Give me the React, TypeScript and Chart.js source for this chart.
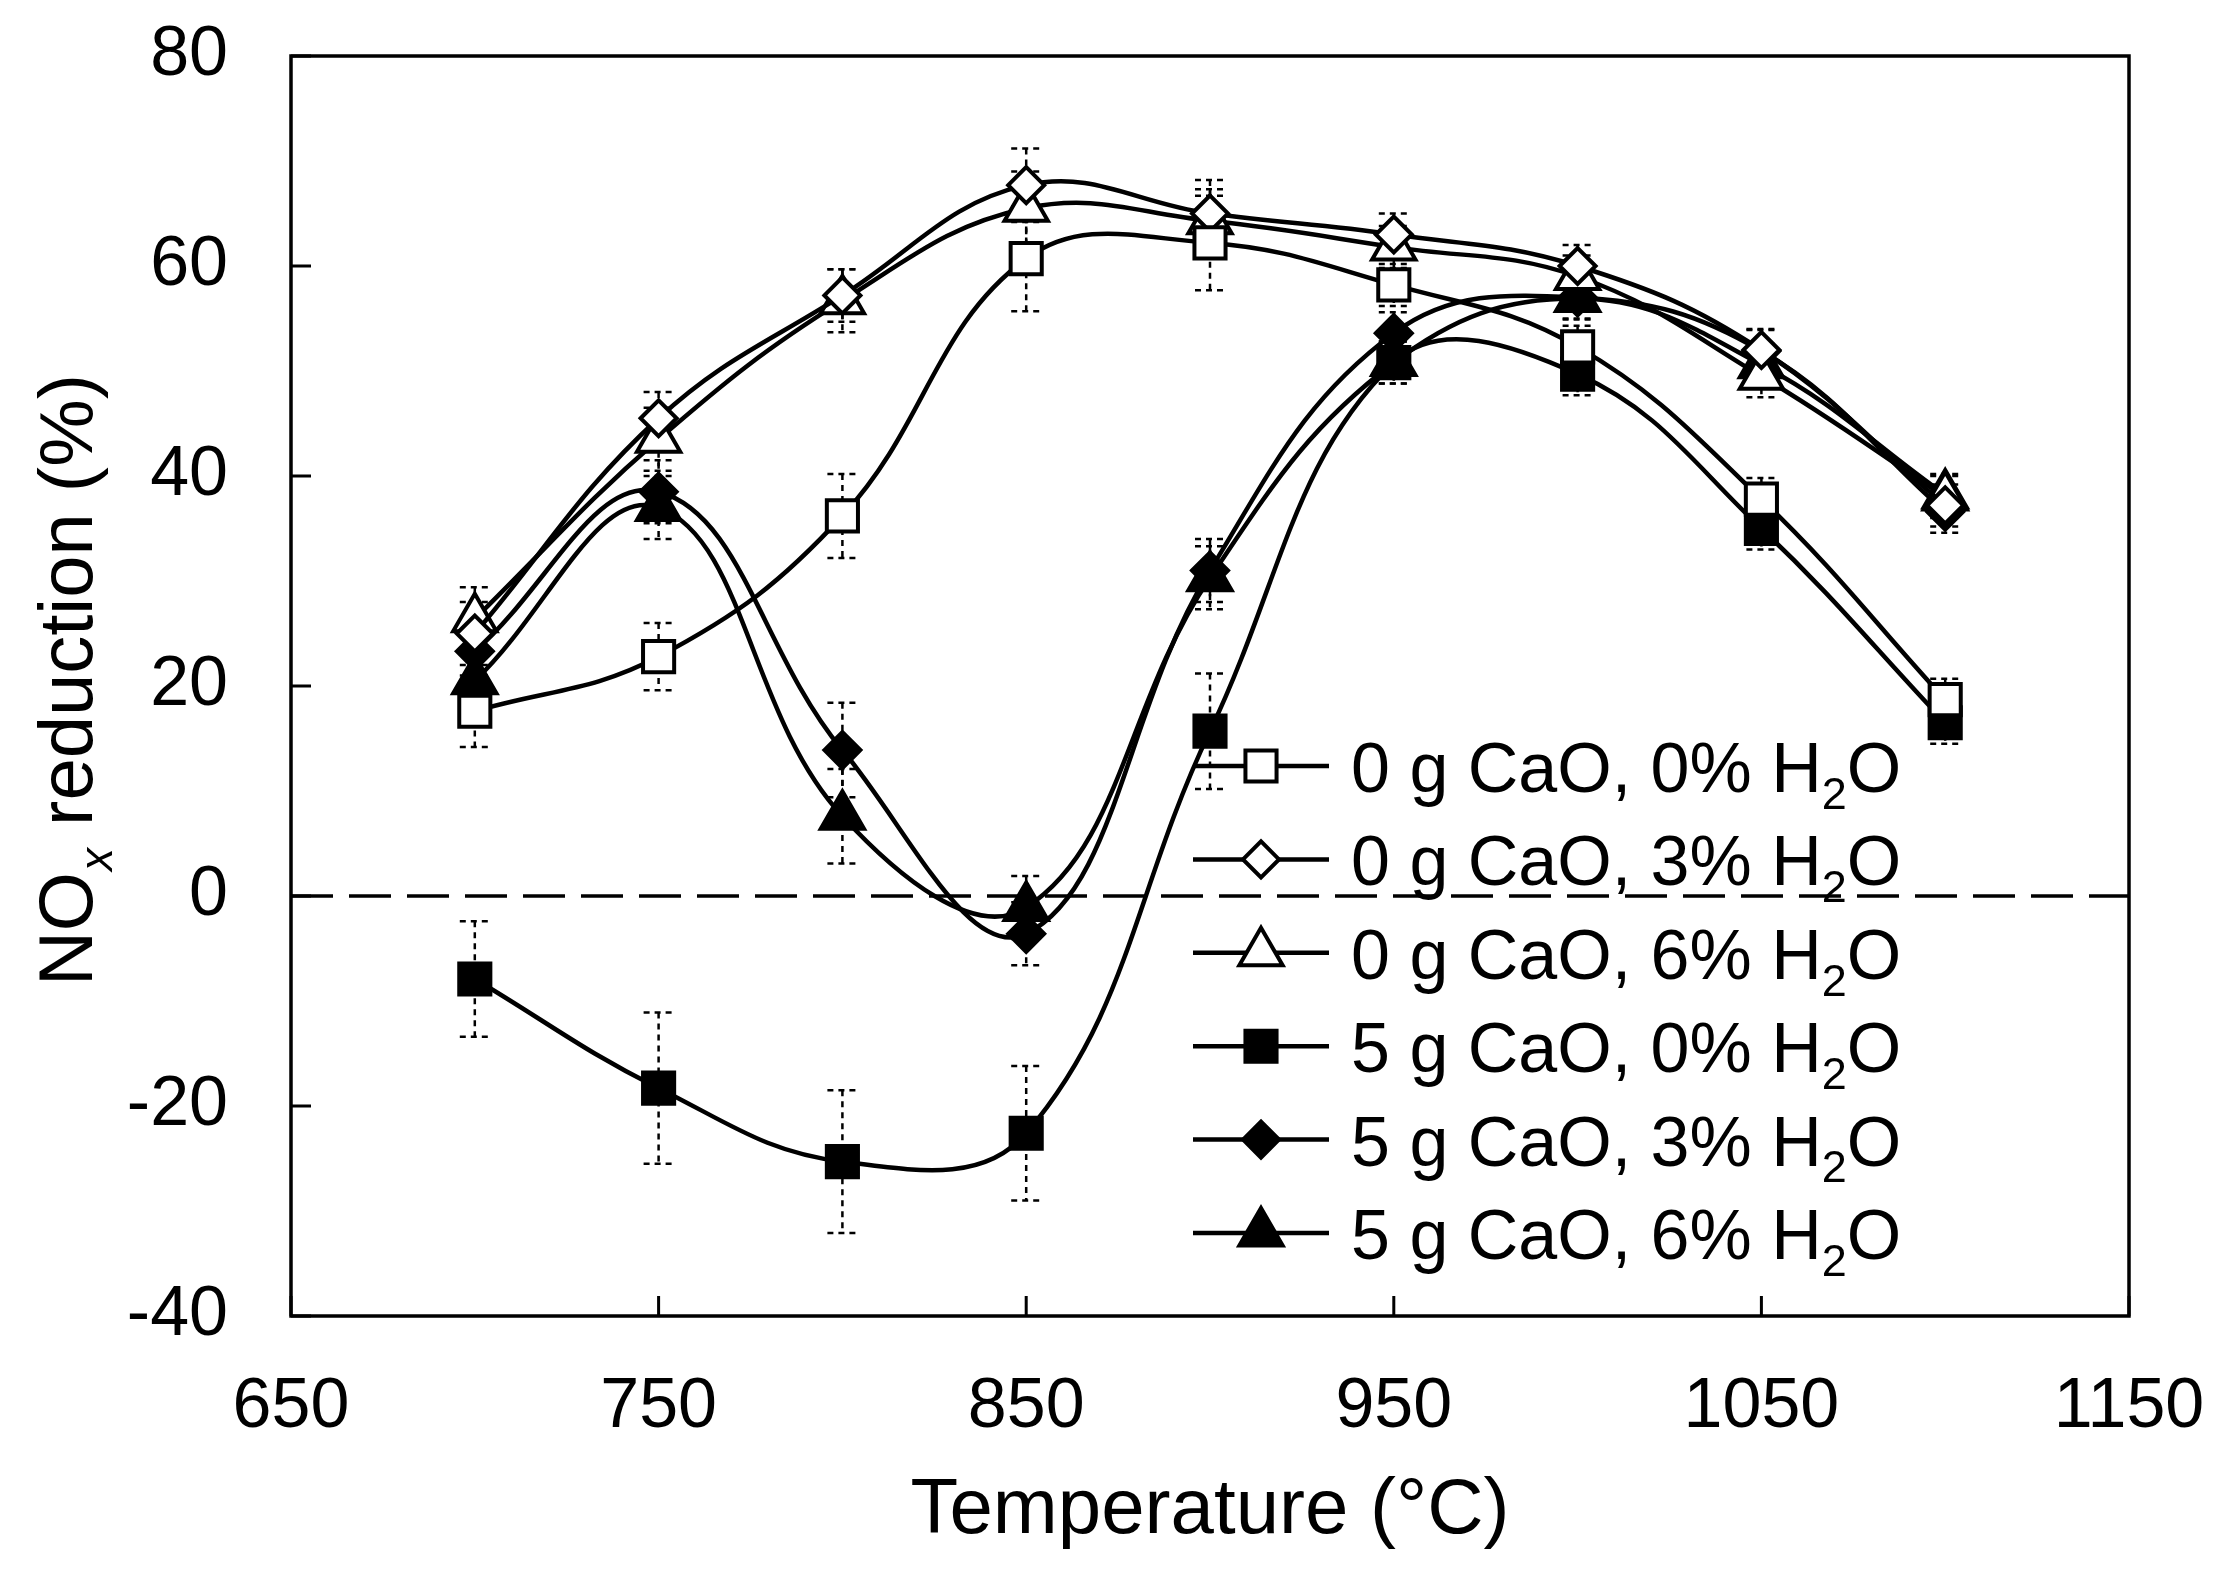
import React, { useEffect, useRef } from 'react';
import { Chart, registerables } from 'chart.js';

Chart.register(...registerables);

// ---- data ----
const temperatures = [700, 750, 800, 850, 900, 950, 1000, 1050, 1100];

const seriesLabels = [
  '0 g CaO, 0% H2O',
  '0 g CaO, 3% H2O',
  '0 g CaO, 6% H2O',
  '5 g CaO, 0% H2O',
  '5 g CaO, 3% H2O',
  '5 g CaO, 6% H2O',
];

const cao0_h2o0 = [17.6, 22.8, 36.2, 60.7, 62.2, 58.2, 52.3, 37.8, 18.7];
const cao0_h2o3 = [25.0, 45.5, 57.2, 67.7, 65.0, 63.0, 60.0, 52.0, 37.2];
const cao0_h2o6 = [26.4, 43.5, 56.7, 65.5, 64.3, 61.8, 59.0, 49.5, 38.0];
const cao5_h2o0 = [-7.9, -18.3, -25.3, -22.6, 15.7, 50.8, 49.7, 35.0, 16.5];
const cao5_h2o3 = [23.3, 38.5, 13.9, -3.6, 31.0, 53.6, 57.0, 51.9, 36.6];
const cao5_h2o6 = [20.5, 37.0, 7.6, -1.1, 30.3, 50.8, 56.9, 50.6, 38.2];

const err_cao0_h2o0 = [3.4, 3.2, 4.0, 5.0, 4.5, 2.0, 2.0, 2.0, 2.0];
const err_cao0_h2o3 = [3.0, 2.5, 2.5, 3.5, 3.2, 2.0, 2.0, 2.0, 2.0];
const err_cao0_h2o6 = [3.0, 3.0, 3.0, 3.5, 3.0, 2.0, 2.0, 2.0, 2.0];
const err_cao5_h2o0 = [5.5, 7.2, 6.8, 6.4, 5.5, 2.0, 2.0, 2.0, 2.0];
const err_cao5_h2o3 = [3.0, 3.0, 4.5, 3.0, 3.0, 2.0, 2.0, 2.0, 2.0];
const err_cao5_h2o6 = [3.0, 3.0, 4.5, 3.0, 3.0, 2.0, 2.0, 2.0, 2.0];

const seriesValues = [cao0_h2o0, cao0_h2o3, cao0_h2o6, cao5_h2o0, cao5_h2o3, cao5_h2o6];
const seriesErrors = [err_cao0_h2o0, err_cao0_h2o3, err_cao0_h2o6, err_cao5_h2o0, err_cao5_h2o3, err_cao5_h2o6];
const seriesShapes = ['rect', 'rectRot', 'triangle', 'rect', 'rectRot', 'triangle'];
const seriesFilled = [false, false, false, true, true, true];

const xMin = 650;
const xMax = 1150;
const xStep = 100;
const yMin = -40;
const yMax = 80;
const yStep = 20;

const xTitle = 'Temperature (°C)';
const yTitleMain = 'NO';
const yTitleSub = 'x';
const yTitleRest = ' reduction (%)';

// ---- styling ----
const W = 2224;
const H = 1571;
const FONT = '"Liberation Sans", Arial, Helvetica, sans-serif';
const radiusFor: Record<string, number> = { rect: 22, rectRot: 18, triangle: 25 };

function drawMarker(ctx: CanvasRenderingContext2D, shape: string, x: number, y: number, filled: boolean) {
  const r = radiusFor[shape];
  ctx.beginPath();
  if (shape === 'rect') {
    const s = r * Math.SQRT1_2;
    ctx.rect(x - s, y - s, 2 * s, 2 * s);
  } else if (shape === 'rectRot') {
    ctx.moveTo(x - r, y);
    ctx.lineTo(x, y - r);
    ctx.lineTo(x + r, y);
    ctx.lineTo(x, y + r);
    ctx.closePath();
  } else {
    ctx.moveTo(x, y - r);
    ctx.lineTo(x + 0.8660254 * r, y + 0.5 * r);
    ctx.lineTo(x - 0.8660254 * r, y + 0.5 * r);
    ctx.closePath();
  }
  ctx.fillStyle = filled ? '#000' : '#fff';
  ctx.fill();
  ctx.stroke();
}

// draws text, turning "H2O" into H with a subscript 2
function drawChemText(ctx: CanvasRenderingContext2D, text: string, x: number, y: number, size: number) {
  const parts = text.split(/(H2O)/);
  let cx = x;
  const main = `${size}px ${FONT}`;
  const sub = `${Math.round(size * 0.64)}px ${FONT}`;
  ctx.textAlign = 'left';
  ctx.textBaseline = 'alphabetic';
  for (const p of parts) {
    if (p === 'H2O') {
      ctx.font = main;
      ctx.fillText('H', cx, y);
      cx += ctx.measureText('H').width;
      ctx.font = sub;
      ctx.fillText('2', cx, y + size * 0.24);
      cx += ctx.measureText('2').width;
      ctx.font = main;
      ctx.fillText('O', cx, y);
      cx += ctx.measureText('O').width;
    } else if (p) {
      ctx.font = main;
      ctx.fillText(p, cx, y);
      cx += ctx.measureText(p).width;
    }
  }
}

const decorPlugin = {
  id: 'decor',
  beforeDatasetsDraw(chart: any) {
    const { ctx, chartArea: a, scales } = chart;
    const xs = scales.x;
    const ys = scales.y;
    ctx.save();
    ctx.strokeStyle = '#000';
    // zero reference line
    const y0 = ys.getPixelForValue(0);
    ctx.lineWidth = 3.5;
    ctx.setLineDash([42, 16]);
    ctx.beginPath();
    ctx.moveTo(a.left, y0);
    ctx.lineTo(a.right, y0);
    ctx.stroke();
    // error bars
    ctx.lineWidth = 2.5;
    ctx.setLineDash([6, 5]);
    chart.data.datasets.forEach((ds: any, i: number) => {
      const errs = seriesErrors[i];
      ds.data.forEach((p: any, j: number) => {
        const px = xs.getPixelForValue(p.x);
        const top = ys.getPixelForValue(p.y + errs[j]);
        const bot = ys.getPixelForValue(p.y - errs[j]);
        ctx.beginPath();
        ctx.moveTo(px, top);
        ctx.lineTo(px, bot);
        ctx.stroke();
        ctx.beginPath();
        ctx.moveTo(px - 15, top);
        ctx.lineTo(px + 15, top);
        ctx.moveTo(px - 15, bot);
        ctx.lineTo(px + 15, bot);
        ctx.stroke();
      });
    });
    ctx.restore();
  },
  afterDraw(chart: any) {
    const { ctx, chartArea: a, scales } = chart;
    const xs = scales.x;
    const ys = scales.y;
    ctx.save();
    ctx.strokeStyle = '#000';
    ctx.fillStyle = '#000';
    ctx.setLineDash([]);
    // frame
    ctx.lineWidth = 3.5;
    ctx.strokeRect(a.left, a.top, a.right - a.left, a.bottom - a.top);
    // inward ticks
    ctx.lineWidth = 3;
    ctx.beginPath();
    xs.ticks.forEach((t: any) => {
      const px = xs.getPixelForValue(t.value);
      ctx.moveTo(px, a.bottom);
      ctx.lineTo(px, a.bottom - 20);
    });
    ys.ticks.forEach((t: any) => {
      const py = ys.getPixelForValue(t.value);
      ctx.moveTo(a.left, py);
      ctx.lineTo(a.left + 20, py);
    });
    ctx.stroke();

    // x title
    ctx.font = `78px ${FONT}`;
    ctx.textAlign = 'center';
    ctx.textBaseline = 'alphabetic';
    ctx.fillText(xTitle, (a.left + a.right) / 2, 1533);

    // y title (rotated, with subscript x)
    ctx.save();
    ctx.translate(92, (a.top + a.bottom) / 2 - 6);
    ctx.rotate(-Math.PI / 2);
    const mainFont = `76px ${FONT}`;
    const subFont = `italic 46px ${FONT}`;
    ctx.font = mainFont;
    const w1 = ctx.measureText(yTitleMain).width;
    const w3 = ctx.measureText(yTitleRest).width;
    ctx.font = subFont;
    const w2 = ctx.measureText(yTitleSub).width + 2;
    let sx = -(w1 + w2 + w3) / 2;
    ctx.textAlign = 'left';
    ctx.font = mainFont;
    ctx.fillText(yTitleMain, sx, 0);
    sx += w1;
    ctx.font = subFont;
    ctx.fillText(yTitleSub, sx + 1, 20);
    sx += w2;
    ctx.font = mainFont;
    ctx.fillText(yTitleRest, sx, 0);
    ctx.restore();

    // legend
    const lx0 = 1193;
    const lx1 = 1329;
    const mx = 1261;
    const tx = 1351;
    chart.data.datasets.forEach((ds: any, i: number) => {
      const cy = 766 + i * 93.4;
      ctx.lineWidth = 4.5;
      ctx.strokeStyle = '#000';
      ctx.beginPath();
      ctx.moveTo(lx0, cy);
      ctx.lineTo(lx1, cy);
      ctx.stroke();
      ctx.lineWidth = 4;
      drawMarker(ctx, seriesShapes[i], mx, cy, seriesFilled[i]);
      ctx.fillStyle = '#000';
      drawChemText(ctx, ds.label, tx, cy + 26, 70);
    });
    ctx.restore();
  },
};

export default function App() {
  const canvasRef = useRef<HTMLCanvasElement | null>(null);

  useEffect(() => {
    document.body.style.margin = '0';
    document.body.style.overflow = 'hidden';
    const canvas = canvasRef.current;
    if (!canvas) return;
    Chart.defaults.font.family = FONT;
    Chart.defaults.color = '#000';

    const datasets = seriesLabels.map((label, i) => ({
      label,
      data: temperatures.map((t, j) => ({ x: t, y: seriesValues[i][j] })),
      borderColor: '#000',
      borderWidth: 4.5,
      tension: 0.4,
      fill: false,
      pointStyle: seriesShapes[i],
      pointRadius: radiusFor[seriesShapes[i]],
      pointHoverRadius: radiusFor[seriesShapes[i]],
      pointBorderWidth: 4,
      pointBorderColor: '#000',
      pointBackgroundColor: seriesFilled[i] ? '#000' : '#fff',
    }));

    const chart = new Chart(canvas, {
      type: 'line',
      data: { datasets },
      plugins: [decorPlugin],
      options: {
        animation: false,
        responsive: false,
        devicePixelRatio: 1,
        events: [],
        layout: { padding: { top: 56, right: 95, left: 0, bottom: 0 } },
        plugins: {
          legend: { display: false },
          tooltip: { enabled: false },
          title: { display: false },
        },
        scales: {
          x: {
            type: 'linear',
            min: xMin,
            max: xMax,
            grid: { display: false, drawTicks: false },
            border: { display: false },
            ticks: {
              stepSize: xStep,
              padding: 50,
              font: { size: 70 },
              color: '#000',
              maxRotation: 0,
              callback: (v: any) => String(v),
            },
            afterFit: (scale: any) => {
              scale.height = H - 1316;
              scale.paddingLeft = 0;
              scale.paddingRight = 0;
              scale.paddingTop = 0;
              scale.paddingBottom = 0;
            },
          },
          y: {
            type: 'linear',
            min: yMin,
            max: yMax,
            grid: { display: false, drawTicks: false },
            border: { display: false },
            ticks: {
              stepSize: yStep,
              padding: 63,
              font: { size: 70 },
              color: '#000',
              callback: (v: any) => String(v),
            },
            afterFit: (scale: any) => {
              scale.width = 291;
              scale.paddingLeft = 0;
              scale.paddingRight = 0;
              scale.paddingTop = 0;
              scale.paddingBottom = 0;
            },
          },
        },
      } as any,
    });

    return () => {
      chart.destroy();
    };
  }, []);

  return (
    <div style={{ position: 'absolute', left: 0, top: 0, width: W, height: H, background: '#fff' }}>
      <canvas ref={canvasRef} width={W} height={H} style={{ width: W, height: H, display: 'block' }} />
    </div>
  );
}
